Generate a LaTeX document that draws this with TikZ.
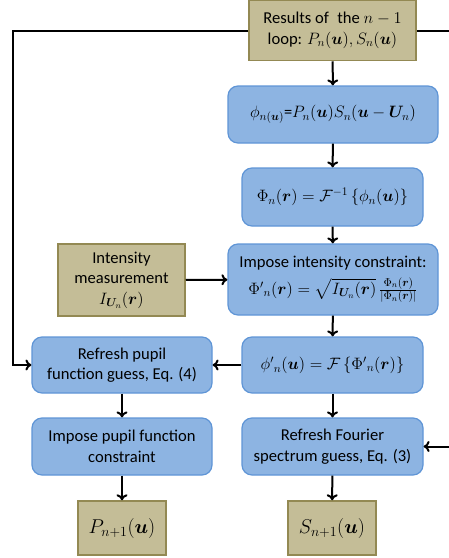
\RequirePackage{fix-cm}
\documentclass[tikz,border=0pt]{standalone}
\usepackage{amsmath,bm}
\usepackage[no-math]{fontspec}
\setmainfont{Carlito}
\usetikzlibrary{arrows.meta}
\definecolor{bluefill}{HTML}{8DB4E2}
\definecolor{blueline}{HTML}{5F95D6}
\definecolor{tanfill}{HTML}{C4BD97}
\definecolor{tanline}{HTML}{938953}
\newcommand{\bu}{\bm{u}}
\newcommand{\br}{\bm{r}}
\newcommand{\bU}{\bm{U}}
\newcommand{\mfs}{\fontsize{16.5}{20}\selectfont}
\begin{document}
\begin{tikzpicture}[x=1pt,y=-1pt,
  bluebox/.style={draw=blueline,fill=bluefill,line width=1.2pt,rounded corners=10pt,
    inner sep=0pt,align=center,font=\fontsize{16.6}{20.5}\selectfont},
  tanbox/.style={draw=tanline,fill=tanfill,line width=1.5pt,inner sep=0pt,align=center,
    font=\fontsize{16.6}{20.5}\selectfont},
  mathbox/.style={font=\mfs},
  arr/.style={line width=2pt,-{To[length=6pt,width=11pt,line width=2pt]}}]
\useasboundingbox (0,0) rectangle (449,558);
\clip (0,0) rectangle (449,558);
\node[tanbox,minimum width=167pt,minimum height=60pt] (res) at (332.5,30.5)
  {Results of\; the {\mfs$n-1$}\\loop: {\mfs$P_n(\bu), S_n(\bu)$}};
\node[bluebox,mathbox,minimum width=210pt,minimum height=57pt] (phi) at (333,114.5)
  {$\phi_{n(\bu)}$=$P_n(\bu)S_n(\bu-\bU_n)$};
\node[bluebox,mathbox,minimum width=181pt,minimum height=58pt] (Phi) at (332.5,197)
  {$\Phi_n(\br)=\mathcal{F}^{-1}\,\{\phi_n(\bu)\}$};
\node[bluebox,minimum width=210pt,minimum height=71pt] (imp) at (333,279.5)
  {Impose intensity constraint:\\[6pt]{\mfs${\Phi'}_n(\br)=\sqrt{I_{\bU_n}(\br)}\,\frac{\Phi_n(\br)}{|\Phi_n(\br)|}$}};
\node[tanbox,minimum width=127pt,minimum height=72pt] (meas) at (121.5,280)
  {Intensity\\measurement\\{\mfs$I_{\bU_n}(\br)$}};
\node[bluebox,mathbox,minimum width=181pt,minimum height=56pt] (phip) at (332.5,365)
  {${\phi'}_n(\bu)=\mathcal{F}\,\{{\Phi'}_n(\br)\}$};
\node[bluebox,minimum width=180pt,minimum height=56pt] (rpup) at (122,365)
  {Refresh pupil\\function guess, Eq. (4)};
\node[bluebox,minimum width=180pt,minimum height=57pt] (ipup) at (122,446.5)
  {Impose pupil function\\constraint};
\node[bluebox,minimum width=181pt,minimum height=57pt] (rfour) at (332.5,446.5)
  {Refresh Fourier\\spectrum guess, Eq. (3)};
\node[tanbox,minimum width=88pt,minimum height=54pt,font=\fontsize{20}{24}\selectfont] (pn1) at (122,528)
  {$P_{n+1}(\bu)$};
\node[tanbox,minimum width=88pt,minimum height=54pt,font=\fontsize{20}{24}\selectfont] (sn1) at (332,528)
  {$S_{n+1}(\bu)$};
\coordinate (cl) at (13,365);
\coordinate (cr) at (470,30.5);
\draw[arr] (res) -- (phi);
\draw[arr] (phi) -- (Phi);
\draw[arr] (Phi) -- (imp);
\draw[arr] (meas) -- (imp);
\draw[arr] (imp) -- (phip);
\draw[arr] (phip) -- (rpup);
\draw[arr] (rpup) -- (ipup);
\draw[arr] (ipup) -- (pn1);
\draw[arr] (phip) -- (rfour);
\draw[arr] (rfour) -- (sn1);
\draw[arr] (res.west) -| (cl) -- (rpup.west);
\draw[arr] (res.east) -- (cr) |- (rfour.east);
\end{tikzpicture}
\end{document}
